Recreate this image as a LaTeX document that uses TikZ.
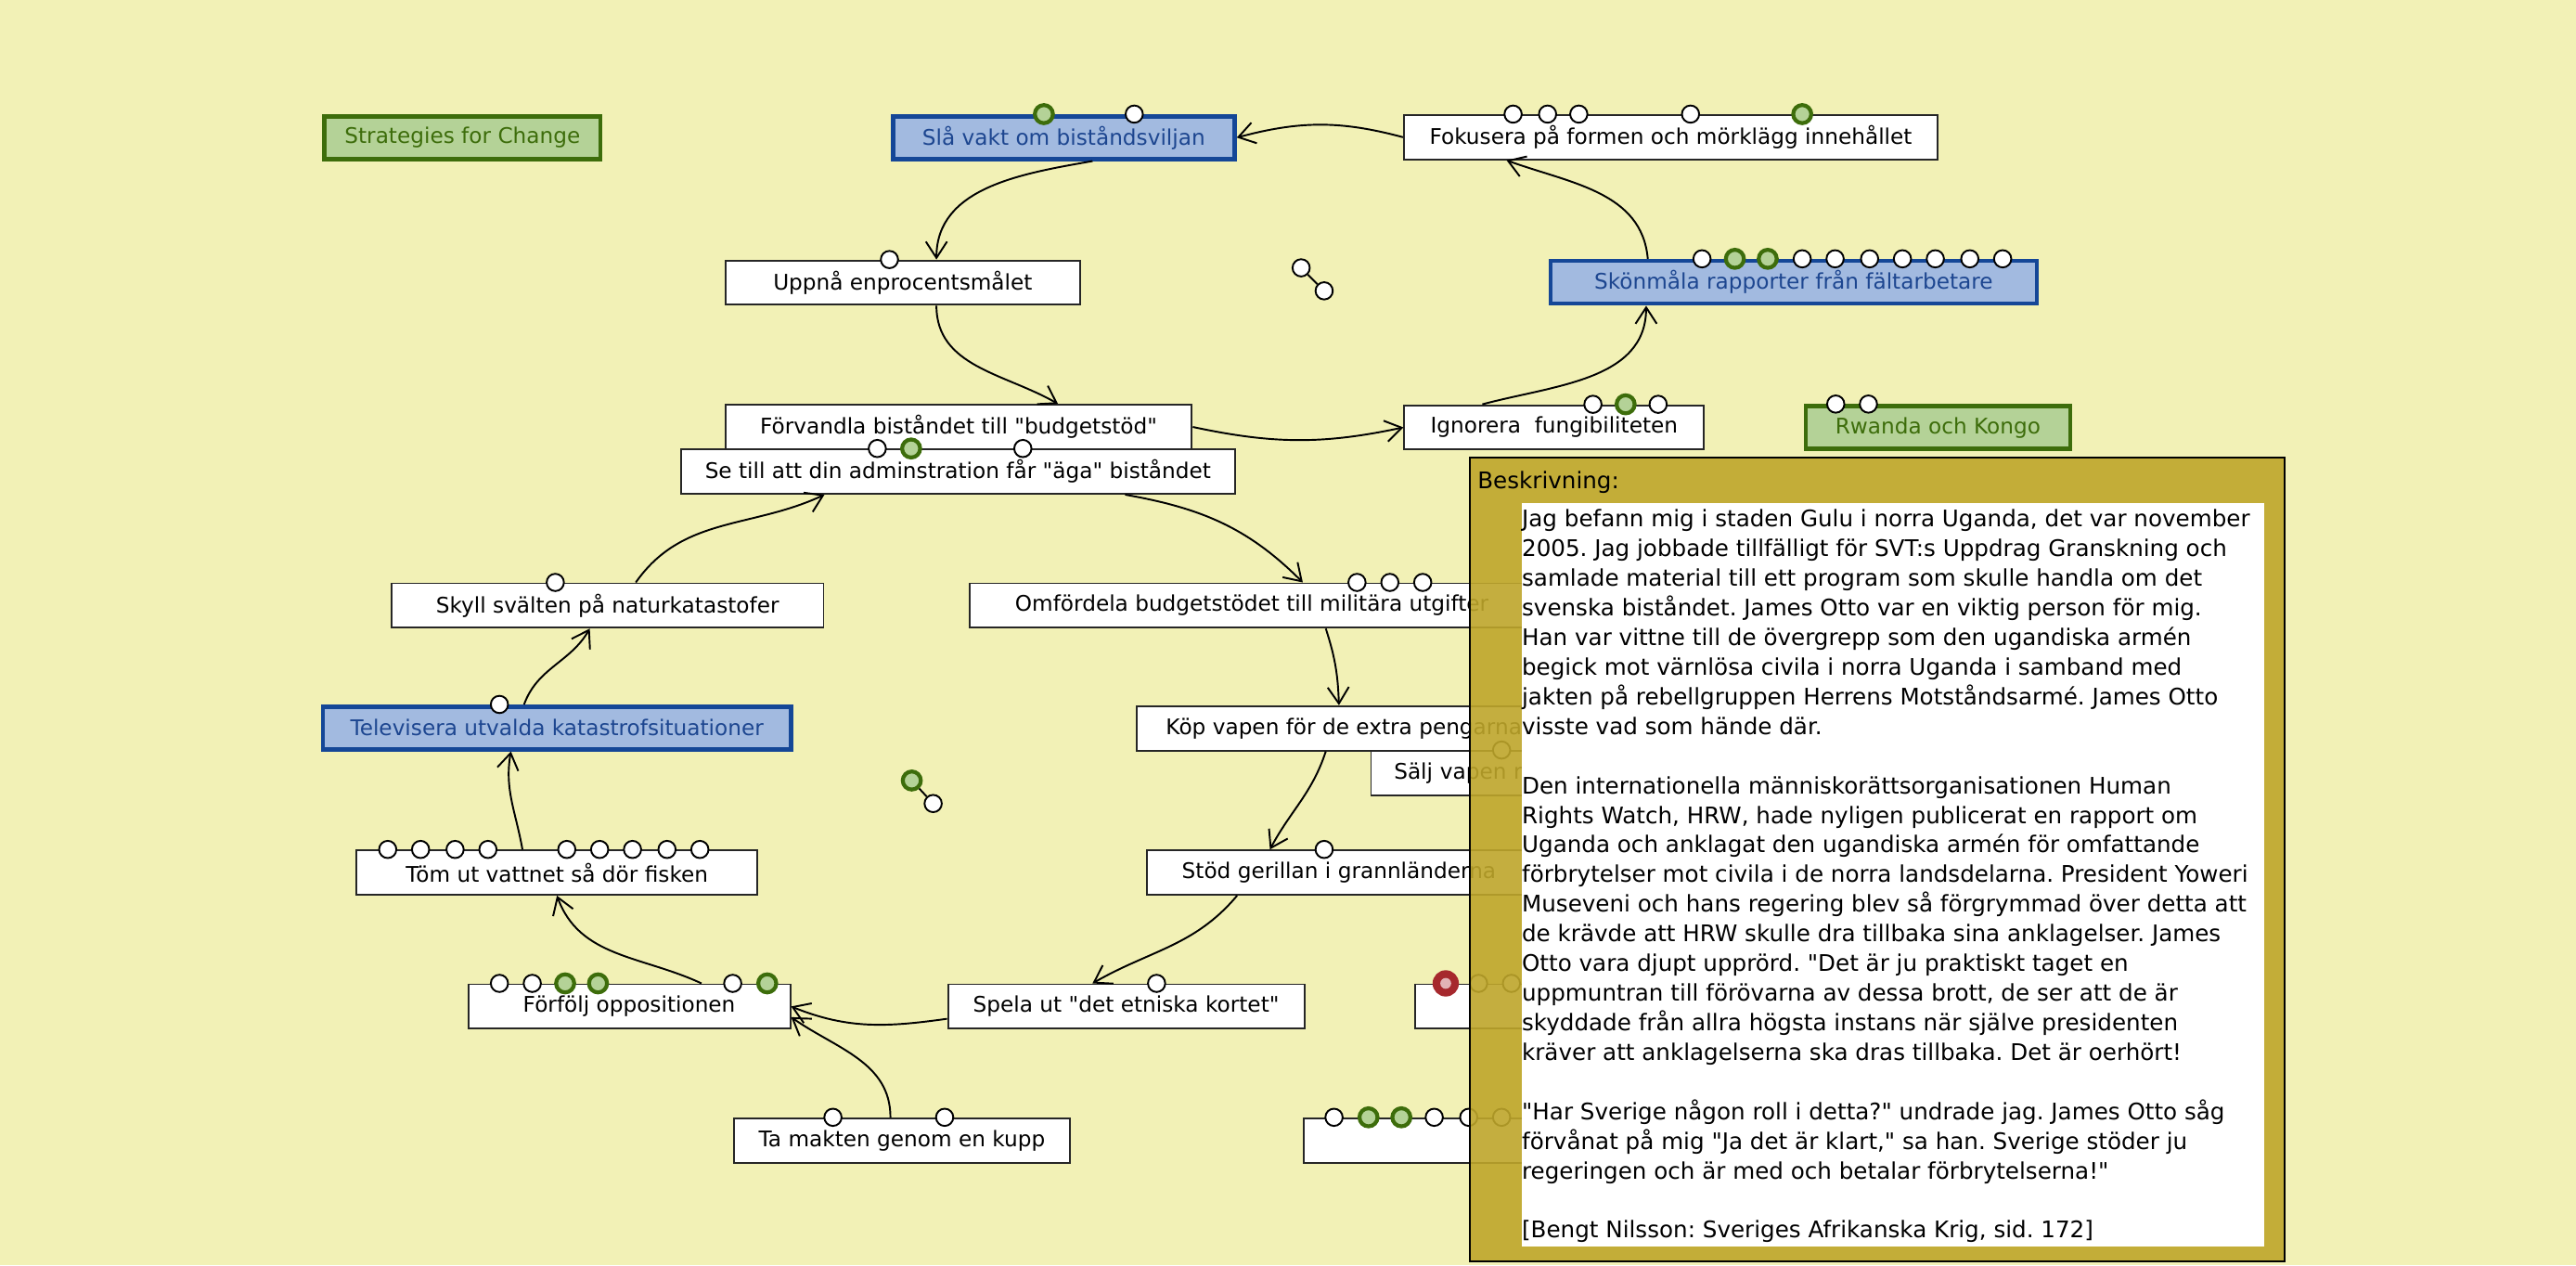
\documentclass[tikz,border=0pt]{standalone}
\usepackage{fontspec}
\setmainfont{DejaVu Sans}[Ligatures=TeXOff]
\usepackage{tikz}
\usetikzlibrary{arrows.meta,calc}

\definecolor{mapbg}{HTML}{F2F1B6}
\definecolor{nodeblue}{HTML}{A2BAE0}
\definecolor{blueline}{HTML}{154797}
\definecolor{bluetext}{HTML}{1D4690}
\definecolor{nodegreen}{HTML}{B4D297}
\definecolor{greenline}{HTML}{3D6D0B}
\definecolor{paneltan}{HTML}{BEA62B}
\definecolor{dotred}{HTML}{A6282D}
\definecolor{dotpink}{HTML}{E2B3B6}

\newlength{\pxu}
\setlength{\pxu}{0.17704mm}
\newcommand{\boxfont}{\fontsize{6.6}{8}\selectfont}
\newcommand{\descfont}{\fontsize{7}{9.08}\selectfont\frenchspacing}

\begin{document}
\begin{tikzpicture}[
    x=0.17704mm, y=-0.17704mm,
    >={Straight Barb[length=5pt,width=6.5pt]},
    task/.style={draw=black!85, fill=white, rectangle, line width=0.55pt, minimum height=27\pxu, inner sep=0pt, font=\boxfont},
    strategy/.style={task, draw=blueline, fill=nodeblue, text=bluetext, line width=1.3pt, minimum height=26\pxu},
    region/.style={task, draw=greenline, fill=nodegreen, text=greenline, line width=1.3pt, minimum height=26\pxu},
    wdot/.style={circle, draw=black, fill=white, line width=0.55pt, minimum size=10.5\pxu, inner sep=0pt},
    gdot/.style={circle, draw=greenline, fill=nodegreen, line width=1.2pt, minimum size=11\pxu, inner sep=0pt},
    rdot/.style={circle, fill=dotred, minimum size=16\pxu, inner sep=0pt, path picture={\fill[dotpink] (path picture bounding box.center) circle (3.3\pxu);}},
    link/.style={->, line width=0.55pt},
    panel/.style={draw=black, line width=0.5pt, fill=paneltan, fill opacity=0.9, rectangle, inner sep=0pt}
]
    \useasboundingbox (0,0) rectangle (1568,770);
    \fill[mapbg] (0,0) rectangle (1568,770);

    % Noder (karta)
    \node[region, minimum width=168\pxu] (strategies) at (281.5,83.75) {Strategies for Change};
    \node[strategy, minimum width=208\pxu] (slavakt) at (647.5,83.75) {Slå vakt om biståndsviljan};
    \node[task, minimum width=325\pxu] (fokusera) at (1017,83.5) {Fokusera på formen och mörklägg innehållet};
    \node[task, minimum width=216\pxu] (uppna) at (549.5,172) {Uppnå enprocentsmålet};
    \node[strategy, minimum width=296\pxu] (skonmala) at (1091.75,171.8) {Skönmåla rapporter från fältarbetare};
    \node[task, minimum width=284\pxu] (forvandla) at (583.5,259.85) {Förvandla biståndet till "budgetstöd"};
    \node[task, minimum width=182.5\pxu] (ignorera) at (946,260.1) {Ignorera\ \ fungibiliteten};
    \node[region, minimum width=161\pxu] (rwanda) at (1179.6,260.2) {Rwanda och Kongo};
    \node[task, minimum width=337\pxu] (setill) at (583.1,287) {Se till att din adminstration får "äga" biståndet};
    \node[task, minimum width=263\pxu] (skyll) at (369.8,368.5) {Skyll svälten på naturkatastofer};
    \node[task, minimum width=343\pxu] (omfordela) at (762,368.5) {Omfördela budgetstödet till militära utgifter};
    \node[strategy, minimum width=285\pxu] (televisera) at (339,443) {Televisera utvalda katastrofsituationer};
    \node[task, minimum width=252\pxu] (kop) at (818,443.2) {Köp vapen för de extra pengarna};
    \node[task, anchor=west, text width=172\pxu, inner xsep=14\pxu, align=left] (salj) at (834,470.5) {Sälj vapen r};
    \node[task, minimum width=244\pxu] (tom) at (339,531) {Töm ut vattnet så dör fisken};
    \node[task, minimum width=234\pxu] (stod) at (815,531) {Stöd gerillan i grannländerna};
    \node[task, minimum width=196\pxu] (forfolj) at (383,612.5) {Förfölj oppositionen};
    \node[task, minimum width=217\pxu] (spela) at (685.5,612.5) {Spela ut "det etniska kortet"};
    \node[task, anchor=west, minimum width=200\pxu] (rodnod) at (861,612.5) {};
    \node[task, minimum width=204\pxu] (kupp) at (549,694) {Ta makten genom en kupp};
    \node[task, anchor=west, minimum width=220\pxu] (sista) at (793,694) {};

    % Cirklar på noderna
    \foreach \x/\s [count=\i] in {635.4/gdot, 690.4/wdot}
        \node[\s] (slavakt-\i) at (\x,0 |- slavakt.north) {};
    \foreach \x/\s [count=\i] in {921/wdot, 942/wdot, 961/wdot, 1029/wdot, 1097/gdot}
        \node[\s] (fokusera-\i) at (\x,0 |- fokusera.north) {};
    \node[wdot] (uppna-1) at (541.4,0 |- uppna.north) {};
    \foreach \x/\s [count=\i] in {1036/wdot, 1056/gdot, 1076/gdot, 1097/wdot, 1117/wdot, 1138/wdot, 1158/wdot, 1178/wdot, 1199/wdot, 1219/wdot}
        \node[\s] (skonmala-\i) at (\x,0 |- skonmala.north) {};
    \foreach \x/\s [count=\i] in {969.6/wdot, 989.5/gdot, 1009.3/wdot}
        \node[\s] (ignorera-\i) at (\x,0 |- ignorera.north) {};
    \foreach \x [count=\i] in {1117.4, 1137.3}
        \node[wdot] (rwanda-\i) at (\x,0 |- rwanda.north) {};
    \foreach \x/\s [count=\i] in {534/wdot, 554.6/gdot, 622.6/wdot}
        \node[\s] (setill-\i) at (\x,0 |- setill.north) {};
    \node[wdot] (skyll-1) at (338,0 |- skyll.north) {};
    \foreach \x [count=\i] in {826, 846, 866}
        \node[wdot] (omfordela-\i) at (\x,0 |- omfordela.north) {};
    \node[wdot] (televisera-1) at (304,0 |- televisera.north) {};
    \node[wdot] (salj-1) at (914,0 |- salj.north) {};
    \foreach \x [count=\i] in {236, 256, 277, 297, 345, 365, 385, 406, 426}
        \node[wdot] (tom-\i) at (\x,0 |- tom.north) {};
    \node[wdot] (stod-1) at (806,0 |- stod.north) {};
    \node[wdot] (spela-1) at (704,0 |- spela.north) {};
    \foreach \x/\s [count=\i] in {304/wdot, 324/wdot, 344/gdot, 364/gdot, 446/wdot, 467/gdot}
        \node[\s] (forfolj-\i) at (\x,0 |- forfolj.north) {};
    \foreach \x/\s [count=\i] in {880/rdot, 900/wdot, 920/wdot}
        \node[\s] (rodnod-\i) at (\x,0 |- rodnod.north) {};
    \foreach \x [count=\i] in {507, 575}
        \node[wdot] (kupp-\i) at (\x,0 |- kupp.north) {};
    \foreach \x/\s [count=\i] in {812/wdot, 833/gdot, 853/gdot, 873/wdot, 894/wdot, 914/wdot}
        \node[\s] (sista-\i) at (\x,0 |- sista.north) {};

    % Lösa cirkelpar
    \node[wdot] (par-a) at (792,163) {};
    \node[wdot] (par-b) at (806,177) {};
    \draw[line width=0.55pt] (par-a) -- (par-b);
    \node[gdot] (par-c) at (555,475) {};
    \node[wdot] (par-d) at (568,489) {};
    \draw[line width=0.55pt] (par-c) -- (par-d);

    % Pilar
    \draw[link] (fokusera.west) to[out=165,in=15] (slavakt.east);
    \draw[link] ([xshift=17.5\pxu]slavakt.south) to[out=190,in=90] ([xshift=20.5\pxu]uppna.north);
    \draw[link] ([xshift=20.5\pxu]uppna.south) to[out=-90,in=150] ([xshift=60.5\pxu]forvandla.north);
    \draw[link] (forvandla.east) to[out=-12,in=192] (ignorera.west);
    \draw[link] ([xshift=-43.7\pxu]ignorera.north) to[out=15,in=-90] ([xshift=-89.75\pxu]skonmala.south);
    \draw[link] ([xshift=-88.75\pxu]skonmala.north) to[out=95,in=-20] ([xshift=-100\pxu]fokusera.south);
    \draw[link] ([xshift=101.75\pxu]setill.south) to[out=-10,in=135] ([xshift=31\pxu]omfordela.north);
    \draw[link] ([xshift=45\pxu]omfordela.south) to[out=-72,in=92] ([xshift=-3\pxu]kop.north);
    \draw[link] ([xshift=-11\pxu]kop.south) to[out=-108,in=62] ([xshift=-42\pxu]stod.north);
    \draw[link] ([xshift=-62\pxu]stod.south) to[out=-130,in=30] ([xshift=-20.5\pxu]spela.north);
    \draw[link] ([yshift=-7.5\pxu]spela.west) to[out=188,in=-22] (forfolj.east);
    \draw[link] ([xshift=-7\pxu]kupp.north) to[out=90,in=-35] ([yshift=-6.5\pxu]forfolj.east);
    \draw[link] ([xshift=44\pxu]forfolj.north) to[out=155,in=-70] (tom.south);
    \draw[link] ([xshift=-21\pxu]tom.north) to[out=100,in=-100] ([xshift=-28\pxu]televisera.south);
    \draw[link] ([xshift=-20\pxu]televisera.north) to[out=70,in=-120] ([xshift=-10.8\pxu]skyll.south);
    \draw[link] ([xshift=17.2\pxu]skyll.north) to[out=55,in=-155] ([xshift=-81.25\pxu]setill.south);

    % Beskrivningspanel
    \node[panel, anchor=north west, minimum width=496\pxu, minimum height=489\pxu] (beskrivning) at (894,278) {};
    \node[anchor=base west, inner sep=0pt, font=\descfont] (beskrlabel) at (899,297.5) {Beskrivning:};
    \node[fill=white, anchor=north west, minimum width=452\pxu, minimum height=452\pxu, inner sep=0pt] (textyta) at (926,306) {};
    \begin{scope}
        \clip (textyta.north west) rectangle (textyta.south east);
        \node[anchor=north west, inner sep=0pt, align=left, font=\descfont] (berattelse) at (926,309.8) {%
            Jag befann mig i staden Gulu i norra Uganda, det var november\\
            2005. Jag jobbade tillfälligt för SVT:s Uppdrag Granskning och\\
            samlade material till ett program som skulle handla om det\\
            svenska biståndet. James Otto var en viktig person för mig.\\
            Han var vittne till de övergrepp som den ugandiska armén\\
            begick mot värnlösa civila i norra Uganda i samband med\\
            jakten på rebellgruppen Herrens Motståndsarmé. James Otto\\
            visste vad som hände där.\\[9.08pt]
            Den internationella människorättsorganisationen Human\\
            Rights Watch, HRW, hade nyligen publicerat en rapport om\\
            Uganda och anklagat den ugandiska armén för omfattande\\
            förbrytelser mot civila i de norra landsdelarna. President Yoweri\\
            Museveni och hans regering blev så förgrymmad över detta att\\
            de krävde att HRW skulle dra tillbaka sina anklagelser. James\\
            Otto vara djupt upprörd. "Det är ju praktiskt taget en\\
            uppmuntran till förövarna av dessa brott, de ser att de är\\
            skyddade från allra högsta instans när själve presidenten\\
            kräver att anklagelserna ska dras tillbaka. Det är oerhört!\\[9.08pt]
            "Har Sverige någon roll i detta?" undrade jag. James Otto såg\\
            förvånat på mig "Ja det är klart," sa han. Sverige stöder ju\\
            regeringen och är med och betalar förbrytelserna!"\\[9.08pt]
            [Bengt Nilsson: Sveriges Afrikanska Krig, sid. 172]};
    \end{scope}

\end{tikzpicture}
\end{document}
